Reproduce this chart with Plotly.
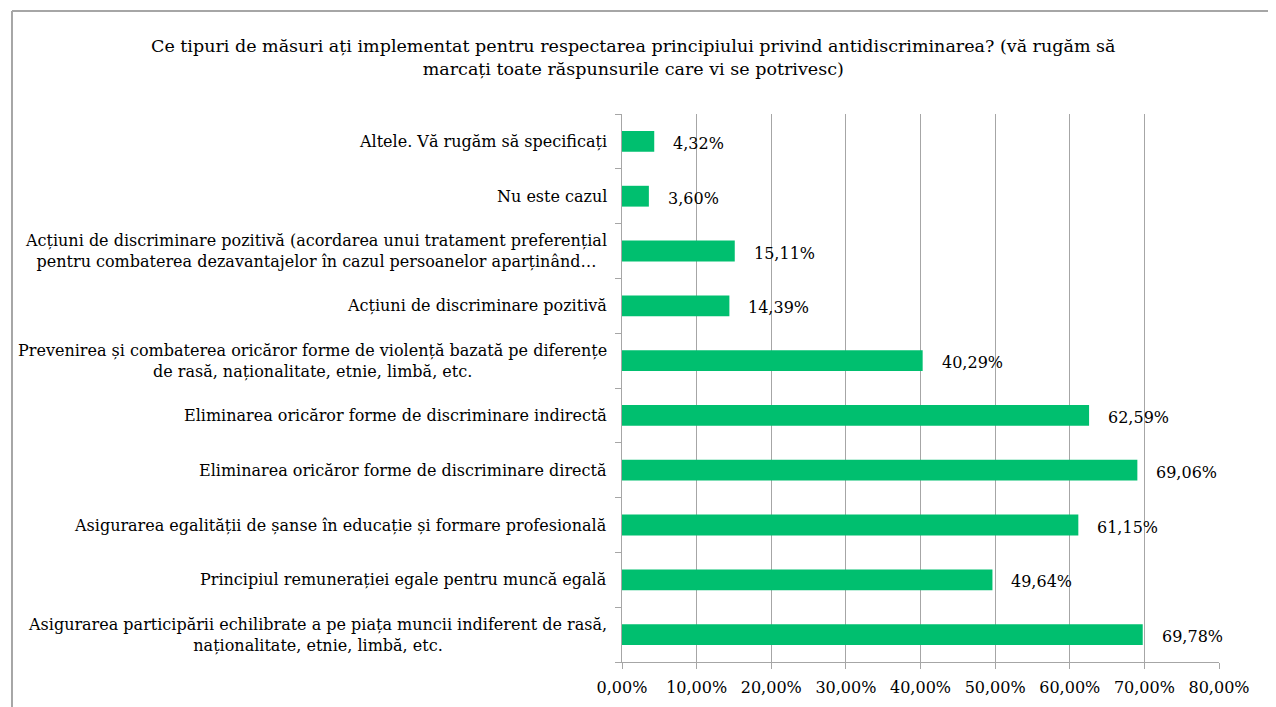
import plotly.graph_objects as go

# categories from bottom to top, as the chart reads them
categories = [
    "Asigurarea participării echilibrate a pe piața muncii indiferent de rasă,<br>naționalitate, etnie, limbă, etc.",
    "Principiul remunerației egale pentru muncă egală",
    "Asigurarea egalității de șanse în educație și formare profesională",
    "Eliminarea oricăror forme de discriminare directă",
    "Eliminarea oricăror forme de discriminare indirectă",
    "Prevenirea și combaterea oricăror forme de violență bazată pe diferențe<br>de rasă, naționalitate, etnie, limbă, etc.",
    "Acțiuni de discriminare pozitivă",
    "Acțiuni de discriminare pozitivă (acordarea unui tratament preferențial<br>pentru combaterea dezavantajelor în cazul persoanelor aparținând…",
    "Nu este cazul",
    "Altele. Vă rugăm să specificați",
]
values = [0.6978, 0.4964, 0.6115, 0.6906, 0.6259, 0.4029, 0.1439, 0.1511, 0.0360, 0.0432]
value_labels = ["69,78%", "49,64%", "61,15%", "69,06%", "62,59%",
                "40,29%", "14,39%", "15,11%", "3,60%", "4,32%"]

title_text = ("Ce tipuri de măsuri ați implementat pentru respectarea principiului privind antidiscriminarea? (vă rugăm să"
              "<br>marcați toate răspunsurile care vi se potrivesc)")

FONT = "DejaVu Serif"
GREEN = "#00BF6F"
GRID = "#a6a6a6"

fig = go.Figure()
fig.add_trace(go.Bar(x=values, y=categories, orientation="h",
                     marker=dict(color=GREEN, line=dict(width=0)),
                     width=0.38, hoverinfo="skip"))

# Etichete categorii (centrate pe mai multe rânduri, ca în Excel)
for cat in categories:
    fig.add_annotation(x=0, y=cat, xref="x", yref="y", text=cat, showarrow=False,
                       xanchor="right", align="center", xshift=-13,
                       font=dict(family=FONT, size=16, color="black"))

# Etichete valori
for cat, v, lab in zip(categories, values, value_labels):
    fig.add_annotation(x=v, y=cat, xref="x", yref="y", text=lab, showarrow=False,
                       xanchor="left", xshift=17, yshift=-2,
                       font=dict(family=FONT, size=16, color="black"))

# Chenar
fig.add_shape(type="line", xref="paper", yref="paper", x0=-1.0218, x1=-1.0218, y0=-0.2, y1=1.188,
              line=dict(color=GRID, width=2))
fig.add_shape(type="line", xref="paper", yref="paper", x0=-1.0218, x1=1.2, y0=1.188, y1=1.188,
              line=dict(color=GRID, width=2))

fig.update_layout(
    width=1276, height=707,
    margin=dict(l=614, r=65, t=106, b=53),
    paper_bgcolor="white", plot_bgcolor="white",
    separators=", ",
    showlegend=False,
    title=dict(text=title_text, x=0.49, xanchor="center", y=0.938, yanchor="top",
               font=dict(family=FONT, size=17.5, color="black")),
    font=dict(family=FONT, size=16, color="black"),
    xaxis=dict(range=[0, 0.8], dtick=0.1, tickformat=".2%", showgrid=True, gridcolor=GRID,
               gridwidth=1, zeroline=False, showline=True, linecolor=GRID, ticks="outside",
               ticklen=6, tickcolor=GRID, ticklabelstandoff=5,
               tickfont=dict(family=FONT, size=16, color="black")),
    yaxis=dict(showticklabels=False, showline=True, linecolor=GRID, ticks="outside",
               tickson="boundaries", ticklen=6, tickcolor=GRID, showgrid=False,
               range=[-0.5, 9.5]),
)

fig.write_html("out.html")
